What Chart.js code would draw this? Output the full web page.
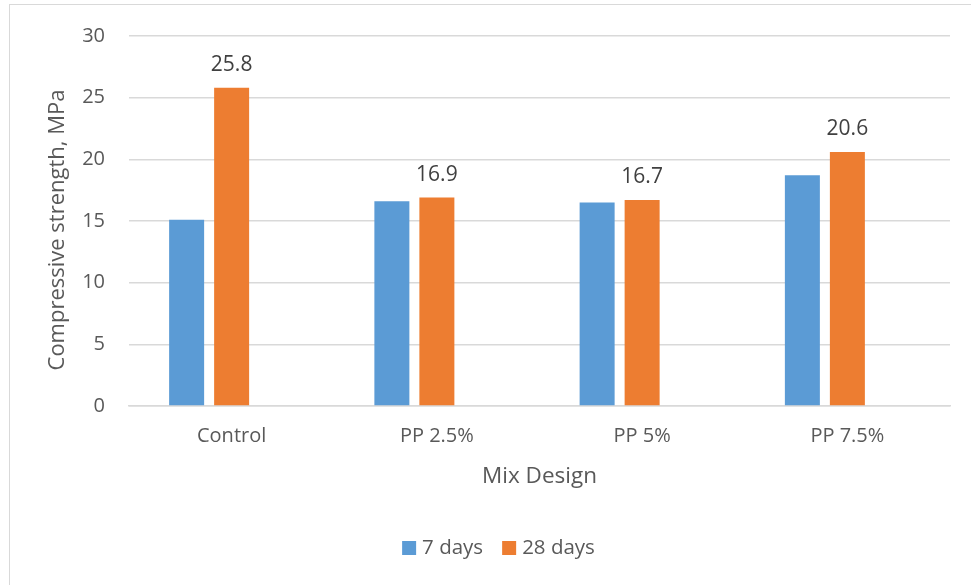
<!DOCTYPE html>
<html>
<head>
<meta charset="utf-8">
<script src="https://cdn.jsdelivr.net/npm/chart.js@4.4.1/dist/chart.umd.min.js"></script>
<style>
  html, body { margin: 0; padding: 0; background: #fff; overflow: hidden; }
  #frame { position: absolute; left: 9px; top: 4px; width: 1000px; height: 620px; border: 1px solid #d9d9d9; box-sizing: border-box; }
  #wrap { position: absolute; left: 0; top: 0; width: 971px; height: 585px; }
</style>
</head>
<body>
<div id="frame"></div>
<div id="wrap"><canvas id="c" width="971" height="585"></canvas></div>
<script>
const categories = ["Control", "PP 2.5%", "PP 5%", "PP 7.5%"];
const days7 = [15.1, 16.6, 16.5, 18.7];
const days28 = [25.8, 16.9, 16.7, 20.6];
const spacer = [null, null, null, null];
const seriesNames = ["7 days", "28 days"];
const yTitle = "Compressive strength, MPa";
const xTitle = "Mix Design";

const FONT = "'Open Sans', 'Noto Sans', sans-serif";
const FS = 20;
const TXT = "#595959";
const BLUE = "#5B9BD5";
const ORANGE = "#ED7D31";

const labelPlugin = {
  id: "labels28",
  afterDatasetsDraw(chart) {
    const ctx = chart.ctx;
    const meta = chart.getDatasetMeta(1);
    ctx.save();
    ctx.font = "21px " + FONT;
    ctx.fillStyle = "#404040";
    ctx.textAlign = "center";
    ctx.textBaseline = "alphabetic";
    meta.data.forEach((bar, i) => {
      ctx.fillText(days28[i].toFixed(1), bar.x, bar.y - 17);
    });
    ctx.restore();
  }
};

const extrasPlugin = {
  id: "extras",
  afterDraw(chart) {
    const ctx = chart.ctx;
    const area = chart.chartArea;
    ctx.save();
    ctx.fillStyle = TXT;
    // y title
    ctx.save();
    ctx.font = "22px " + FONT;
    ctx.translate(58, (area.top + area.bottom) / 2 + 9);
    ctx.rotate(-Math.PI / 2);
    ctx.textAlign = "center";
    ctx.textBaseline = "middle";
    ctx.fillText(yTitle, 0, 0, 315);
    ctx.restore();
    // x title
    ctx.font = "22.5px " + FONT;
    ctx.textAlign = "center";
    ctx.textBaseline = "middle";
    ctx.fillText(xTitle, (area.left + area.right) / 2, 477);
    // legend
    ctx.font = "20.5px " + FONT;
    const colors = [BLUE, ORANGE];
    const box = 14, gap = 6, spacing = 19;
    const widths = seriesNames.map(s => ctx.measureText(s).width);
    const total = widths.reduce((a, w) => a + box + gap + w, 0) + spacing;
    let x = 498.5 - total / 2;
    const cy = 548;
    ctx.textAlign = "left";
    seriesNames.forEach((s, i) => {
      ctx.fillStyle = colors[i];
      ctx.fillRect(x, cy - box / 2, box, box);
      x += box + gap;
      ctx.fillStyle = TXT;
      ctx.fillText(s, x, cy);
      x += widths[i] + spacing;
    });
    ctx.restore();
  }
};

new Chart(document.getElementById("c"), {
  type: "bar",
  data: {
    labels: categories,
    datasets: [
      { label: seriesNames[0], data: days7, backgroundColor: BLUE },
      { label: seriesNames[1], data: days28, backgroundColor: ORANGE },
      { label: "", data: spacer, backgroundColor: "rgba(0,0,0,0)" }
    ]
  },
  options: {
    responsive: false,
    animation: false,
    events: [],
    layout: { padding: { left: 49, right: 21, top: 33, bottom: 97 } },
    datasets: { bar: { categoryPercentage: 135 / 205.25, barPercentage: 35 / 45 } },
    plugins: { legend: { display: false }, tooltip: { enabled: false } },
    scales: {
      x: {
        grid: { display: false, drawTicks: false },
        border: { display: true, color: "#d9d9d9", width: 1.5 },
        ticks: { color: TXT, font: { family: FONT, size: FS }, padding: 18, maxRotation: 0 },
        afterFit(s) { s.height = 82; }
      },
      y: {
        min: 0, max: 30,
        grid: { color: "#d9d9d9", lineWidth: 1.5, drawTicks: false },
        border: { display: false },
        ticks: { stepSize: 5, color: TXT, font: { family: FONT, size: FS }, padding: 24 },
        afterFit(s) { s.width = 80; }
      }
    }
  },
  plugins: [labelPlugin, extrasPlugin]
});
</script>
</body>
</html>
